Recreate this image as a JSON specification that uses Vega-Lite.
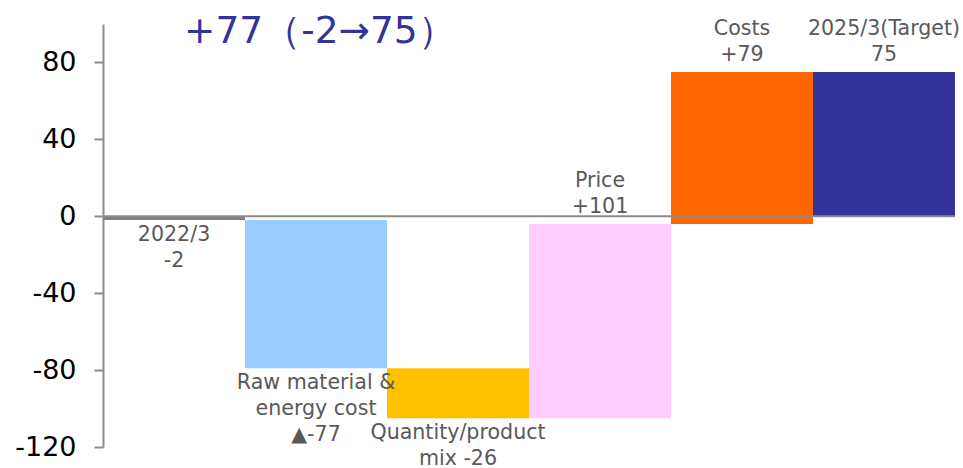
{
  "$schema": "https://vega.github.io/schema/vega-lite/v6.json",
  "width": 852,
  "height": 423,
  "autosize": {"type": "none"},
  "padding": {"left": 103, "top": 24, "right": 8, "bottom": 21},
  "background": "white",
  "config": {"view": {"stroke": null}, "font": "DejaVu Sans"},
  "title": {
    "text": "+77（-2→75）",
    "anchor": "start",
    "frame": "group",
    "offset": 0,
    "dx": 81,
    "dy": 31,
    "fontSize": 37.5,
    "fontWeight": "normal",
    "color": "#333399",
    "font": "DejaVu Sans"
  },
  "data": {
    "values": [
      {"item": "2022/3", "start": 0, "end": -2, "label": "2022/3\n-2"},
      {"item": "Raw material & energy cost", "start": -2, "end": -79, "label": "Raw material &\nenergy cost\n▲-77"},
      {"item": "Quantity/product mix", "start": -79, "end": -105, "label": "Quantity/product\nmix -26"},
      {"item": "Price", "start": -105, "end": -4, "label": "Price\n+101"},
      {"item": "Costs", "start": -4, "end": 75, "label": "Costs\n+79"},
      {"item": "2025/3(Target)", "start": 0, "end": 75, "label": "2025/3(Target)\n75"}
    ]
  },
  "layer": [
    {
      "mark": {"type": "bar"},
      "encoding": {
        "x": {"field": "item", "type": "nominal", "sort": null, "scale": {"paddingInner": 0, "paddingOuter": 0}, "axis": null},
        "y": {
          "field": "start",
          "type": "quantitative",
          "scale": {"domain": [-120, 100], "nice": false, "zero": false},
          "axis": {
            "values": [-120, -80, -40, 0, 40, 80],
            "labelExpr": "replace(datum.label, '−', '-')",
            "grid": false,
            "title": null,
            "domainColor": "#8c8c8c",
            "domainWidth": 2,
            "tickColor": "#8c8c8c",
            "tickWidth": 2,
            "tickSize": 9,
            "labelFontSize": 27,
            "labelColor": "#000000",
            "labelPadding": 18,
            "labelFont": "DejaVu Sans"
          }
        },
        "y2": {"field": "end"},
        "color": {
          "field": "item",
          "type": "nominal",
          "sort": null,
          "scale": {
            "domain": ["2022/3", "Raw material & energy cost", "Quantity/product mix", "Price", "Costs", "2025/3(Target)"],
            "range": ["#808080", "#99ccff", "#ffc000", "#ffccff", "#ff6600", "#333399"]
          },
          "legend": null
        }
      }
    },
    {
      "data": {"values": [{"v": 0}]},
      "mark": {"type": "rule", "color": "#8c8c8c", "strokeWidth": 2},
      "encoding": {"y": {"field": "v", "type": "quantitative"}}
    },
    {
      "transform": [{"filter": "datum.end < datum.start"}],
      "mark": {"type": "text", "baseline": "top", "dy": 5, "lineBreak": "\n", "lineHeight": 26, "fontSize": 20.6, "color": "#595959", "font": "DejaVu Sans"},
      "encoding": {
        "x": {"field": "item", "type": "nominal", "sort": null, "bandPosition": 0.5},
        "y": {"field": "end", "type": "quantitative"},
        "text": {"field": "label"}
      }
    },
    {
      "transform": [{"filter": "datum.end > datum.start"}],
      "mark": {"type": "text", "baseline": "bottom", "dy": -33, "lineBreak": "\n", "lineHeight": 26, "fontSize": 20.6, "color": "#595959", "font": "DejaVu Sans"},
      "encoding": {
        "x": {"field": "item", "type": "nominal", "sort": null, "bandPosition": 0.5},
        "y": {"field": "end", "type": "quantitative"},
        "text": {"field": "label"}
      }
    }
  ]
}
